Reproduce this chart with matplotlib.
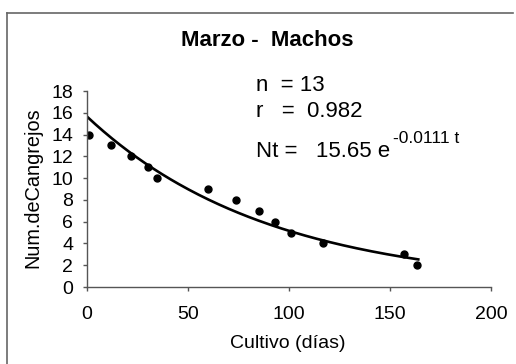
import numpy as np
import matplotlib.pyplot as plt
from matplotlib.lines import Line2D

# data
dias = [1, 12, 22, 30, 34.5, 60, 74, 85, 93, 101, 117, 157, 163.5]
cangrejos = [14, 13, 12, 11, 10, 9, 8, 7, 6, 5, 4, 3, 2]

# fitted model shown on the chart: Nt = N0 * exp(k t)
N0 = 15.65
k = -0.0111
t_fin = 164

plt.rcParams['font.family'] = ['Liberation Sans', 'DejaVu Sans']

W, H = 516, 364
fig = plt.figure(figsize=(W / 100, H / 100), dpi=100)

# axes placed in pixel terms
left, right, top, bottom = 87, 491, 91, 287
ax = fig.add_axes([left / W, 1 - bottom / H, (right - left) / W, (bottom - top) / H])

t = np.linspace(0, t_fin, 200)
ax.plot(t, N0 * np.exp(k * t), color='black', lw=1.9)
ax.plot(dias, cangrejos, 'o', color='black', ms=5)

ax.set_xlim(0, 200)
ax.set_ylim(0, 18)
ax.set_xticks([0, 50, 100, 150, 200])
ax.set_yticks(range(0, 19, 2))
ax.spines['top'].set_visible(False)
ax.spines['right'].set_visible(False)
for s in ['left', 'bottom']:
    ax.spines[s].set_color('#555555')
    ax.spines[s].set_linewidth(1.0)
ax.tick_params(axis='both', colors='#555555', labelcolor='black', labelsize=14, width=1.0, length=3)
ax.tick_params(axis='x', pad=11)
ax.tick_params(axis='y', pad=7)

def px(x, y):
    return x / W, 1 - y / H

fig.text(*px(33, 188), 'Num.deCangrejos', rotation=90, ha='center', va='center', fontsize=14.3)
fig.text(*px(288, 343), 'Cultivo (días)', ha='center', va='center', fontsize=14)
fig.text(*px(267, 40), 'Marzo -  Machos', ha='center', va='center', fontsize=16, fontweight='bold')

fig.text(*px(256, 91), 'n  = 13', ha='left', va='baseline', fontsize=16)
fig.text(*px(256, 117), 'r   =  0.982', ha='left', va='baseline', fontsize=16)
fig.text(*px(256, 157), 'Nt =   15.65 e', ha='left', va='baseline', fontsize=16)
fig.text(*px(393, 143), '-0.0111 t', ha='left', va='baseline', fontsize=12.5)

# outer chart frame
frame = dict(color='#666666', lw=1.2, transform=fig.transFigure)
fig.add_artist(Line2D([7 / W, 513 / W], [1 - 13 / H, 1 - 13 / H], **frame))
fig.add_artist(Line2D([7 / W, 7 / W], [1 - 13 / H, 0], **frame))

fig.savefig('out.png', dpi=100)
